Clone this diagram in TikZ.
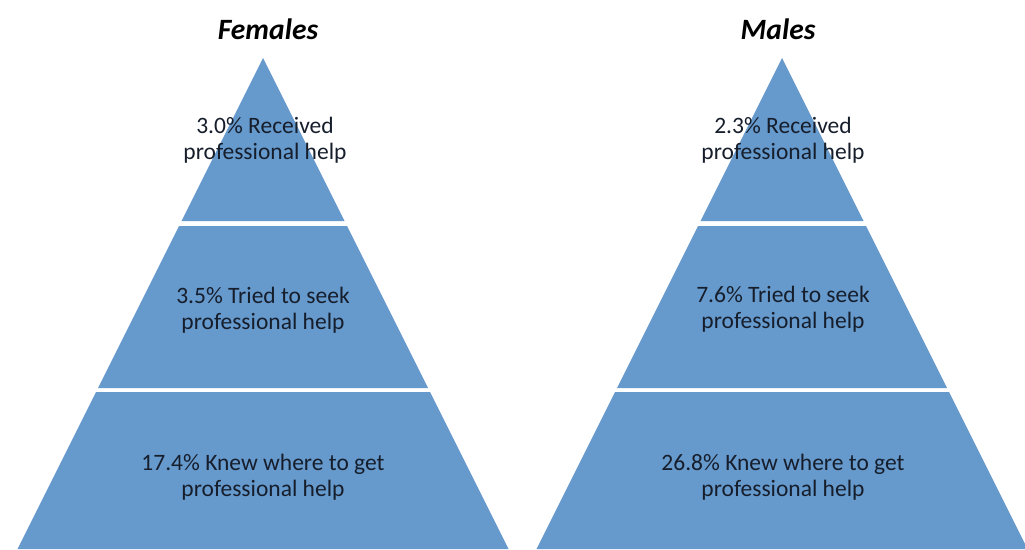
\documentclass[tikz,border=0pt]{standalone}
\usepackage{fontspec}
\setmainfont{Carlito}
\definecolor{tierblue}{RGB}{102,153,204}
\definecolor{txtcol}{RGB}{22,30,44}
\tikzset{
  tierlabel/.style={text=txtcol, align=center, font=\fontsize{23.5}{26}\selectfont, inner sep=0pt},
  titlelabel/.style={text=black, font=\fontsize{29.5}{32}\selectfont\bfseries\itshape, inner sep=0pt}
}
\newcommand{\mypyramid}[1]{%
  \begin{scope}[xshift=#1]
    \fill[tierblue] (0,58) -- (81.5,221) -- (-81.5,221) -- cycle;
    \fill[tierblue] (-84,226) -- (84,226) -- (165,388) -- (-165,388) -- cycle;
    \fill[tierblue] (-167,392) -- (167,392) -- (245.5,549) -- (-245.5,549) -- cycle;
  \end{scope}}
\begin{document}
\begin{tikzpicture}[x=1pt,y=-1pt]
  \useasboundingbox (0,0) rectangle (1025,549);
  \mypyramid{263pt}
  \mypyramid{782pt}
  \node[titlelabel] (ftitle) at (268,29) {Females};
  \node[titlelabel] (mtitle) at (778,29) {Males};
  \node[tierlabel] (f1) at (265,140) {3.0\% Received\\professional help};
  \node[tierlabel] (f2) at (263,310) {3.5\% Tried to seek\\professional help};
  \node[tierlabel] (f3) at (263,477) {17.4\% Knew where to get\\professional help};
  \node[tierlabel] (m1) at (783,140) {2.3\% Received\\professional help};
  \node[tierlabel] (m2) at (783,309) {7.6\% Tried to seek\\professional help};
  \node[tierlabel] (m3) at (783,477) {26.8\% Knew where to get\\professional help};
\end{tikzpicture}
\end{document}
